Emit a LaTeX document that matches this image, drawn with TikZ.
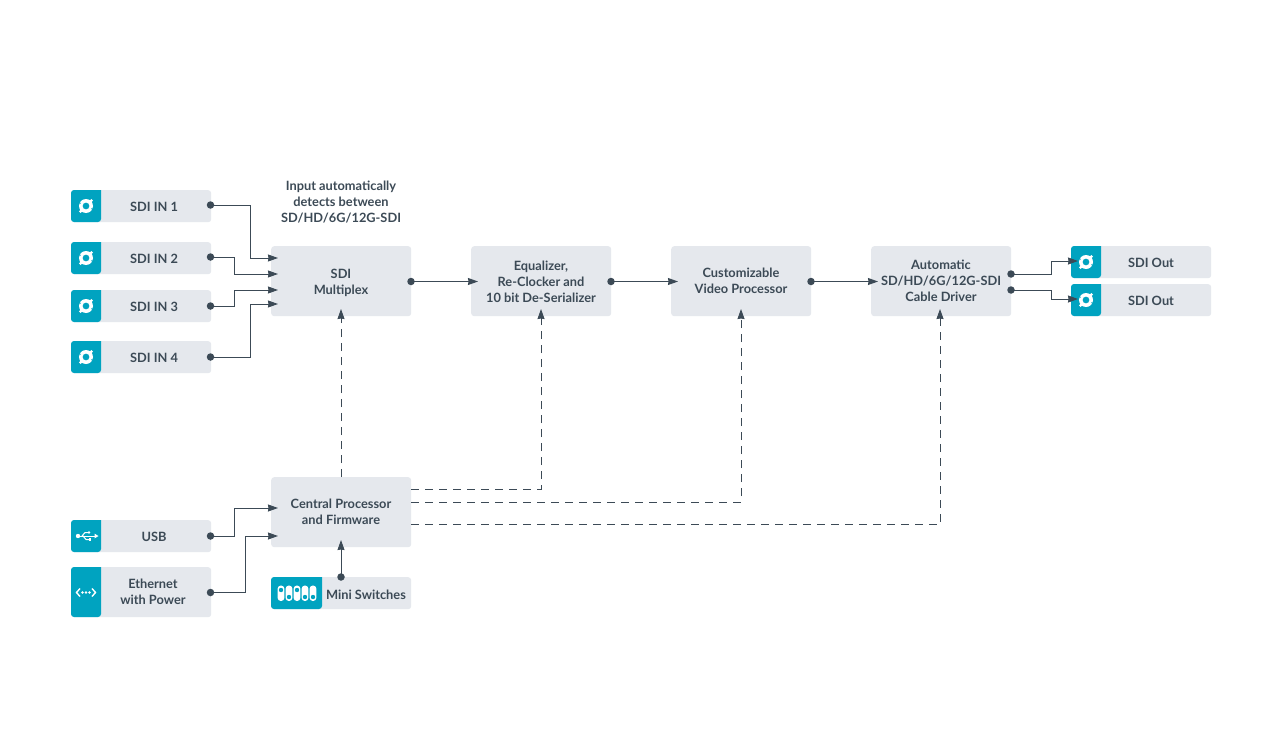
\documentclass[tikz,border=0pt]{standalone}
\usepackage{fontspec}
\setmainfont{Lato}
\usetikzlibrary{arrows.meta}
\definecolor{boxgrey}{HTML}{E5E8ED}
\definecolor{ink}{HTML}{3C4A56}
\definecolor{teal}{HTML}{00A3C0}
\newcommand{\lblfont}{\fontsize{12.8}{16}\selectfont\bfseries}
\tikzset{
  bx/.style={fill=boxgrey,draw=none,rounded corners=3pt,inner sep=0pt,align=center,font=\lblfont,text=ink},
  dotn/.style={circle,fill=ink,draw=none,minimum size=7.5pt,inner sep=0pt},
  conn/.style={draw=ink,line width=1pt,-{Stealth[length=10pt,width=7pt,inset=0.5pt]}},
  dashconn/.style={draw=ink,line width=1pt,dash pattern=on 8pt off 6pt,-{Stealth[length=10pt,width=7pt,inset=0.5pt]}}
}
\newcommand{\blockbox}[9]{% name x1 y1 x2 y2 iconwidth text dx dy
  \node[bx,minimum width=#4pt-#2pt,minimum height=#5pt-#3pt,anchor=north west] (#1) at (#2,#3) {};
  \fill[teal,rounded corners=3pt] (#2+#6,#3) -- (#2,#3) -- (#2,#5) -- (#2+#6,#5) [sharp corners] -- cycle;
  \node[font=\lblfont,text=ink,align=center] (#1t) at ({(#2+#6+#4)/2+#8},{(#3+#5)/2+#9}) {#7};
}
\newcommand{\bnc}[2]{% centre
  \fill[white,even odd rule] (#1,#2) circle (7pt) (#1,#2) circle (3.5pt);
  \draw[white,line width=2.4pt] (#1+4.2,#2-4.2) -- (#1+6.2,#2-6.2) (#1-4.2,#2+4.2) -- (#1-6.2,#2+6.2);
  \draw[teal,line width=0.9pt] (#1-5.4,#2-2.6) -- (#1-7.6,#2-3.6) (#1+5.4,#2+2.6) -- (#1+7.6,#2+3.6);
}
\begin{document}
\begin{tikzpicture}[x=1pt,y=-1pt]
\useasboundingbox (0,0) rectangle (1279,741);
\fill[white] (0,0) rectangle (1279,741);
% input blocks
\blockbox{inA}{71}{190}{211}{222}{30}{SDI IN 1}{-2}{1}
\blockbox{inB}{71}{242}{211}{274}{30}{SDI IN 2}{-2}{1}
\blockbox{inC}{71}{290}{211}{322}{30}{SDI IN 3}{-2}{1}
\blockbox{inD}{71}{341}{211}{373}{30}{SDI IN 4}{-2}{1}
\blockbox{outA}{1071}{246}{1211}{278}{30}{SDI Out}{-5}{1}
\blockbox{outB}{1071}{284}{1211}{316}{30}{SDI Out}{-5}{1}
\blockbox{usb}{71}{520}{211}{552}{30}{USB}{-2}{1}
\blockbox{eth}{71}{567}{211}{617}{30}{Ethernet\\with Power}{-3}{0}
\blockbox{mini}{271}{577}{411}{609}{51}{Mini Switches}{-0.5}{1.5}
\bnc{86}{206}\bnc{86}{258}\bnc{86}{306}\bnc{86}{357}
\bnc{1086}{262}\bnc{1086}{300}
% USB glyph
\draw[white,line width=1pt] (77,536) -- (95,536);
\fill[white] (78,536) circle (2.2pt);
\fill[white] (98.5,536) -- (94.5,533.6) -- (94.5,538.4) -- cycle;
\draw[white,line width=1pt] (82,536) -- (85,532.5) -- (88,532.5) (83,536) -- (86,539.5) -- (89,539.5);
\fill[white] (89,532.5) circle (1.4pt);
\fill[white] (88.5,538) rectangle (91,541);
% Ethernet glyph
\draw[white,line width=1.4pt] (80,588.5) -- (76.5,592.5) -- (80,596.5) (92,588.5) -- (95.5,592.5) -- (92,596.5);
\foreach \px in {82.5,86,89.5}{\fill[white] (\px,592.5) circle (1.3pt);}
% switches glyph
\foreach \sx/\sy in {281/590,289/597,297/590,305/597,313/597}{
  \fill[white,rounded corners=3.2pt] (\sx-3.4,585.5) rectangle (\sx+3.4,601);
  \fill[teal] (\sx,\sy) circle (2.2pt);
}
% main blocks
\node[bx,minimum width=140pt,minimum height=70pt,anchor=north west] (mux) at (271,246) {};
\node[bx,minimum width=140pt,minimum height=70pt,anchor=north west] (eq) at (471,246) {};
\node[bx,minimum width=140pt,minimum height=70pt,anchor=north west] (vid) at (671,246) {};
\node[bx,minimum width=140pt,minimum height=70pt,anchor=north west] (drv) at (871,246) {};
\node[bx,minimum width=140pt,minimum height=70pt,anchor=north west] (cpu) at (271,477) {};
\node[font=\lblfont,text=ink,align=center] (muxt) at (341,282.5) {SDI\\Multiplex};
\node[font=\lblfont,text=ink,align=center] (eqt) at (541,282) {Equalizer,\\Re-Clocker and\\10 bit De-Serializer};
\node[font=\lblfont,text=ink,align=center] (vidt) at (741,281) {Customizable\\Video Processor};
\node[font=\lblfont,text=ink,align=center] (drvt) at (941,281) {Automatic\\SD/HD/6G/12G-SDI\\Cable Driver};
\node[font=\lblfont,text=ink,align=center] (cput) at (341,512) {Central Processor\\and Firmware};
\node[font=\lblfont,text=ink,align=center] (note) at (341,202) {Input automatically\\detects between\\SD/HD/6G/12G-SDI};
% connection points
\foreach \n/\x/\y in {dA/210.5/205,dB/210.5/257,dC/210.5/306,dD/210.5/357,dM/411/281.5,dE/611/281.5,dV/811/281.5,dX/1011/274,dY/1011/290,dU/210.5/536,dN/210.5/592.5,dS/341/577}{
  \node[dotn] (\n) at (\x,\y) {};
}
\foreach \n/\x/\y in {mA/278/258,mB/278/274,mC/278/290,mD/278/304,eI/478/281.5,vI/678/281.5,cI/878/281.5,oA/1078/261,oB/1078/299,uI/278/508,nI/278/536,sI/341/540,tM/341/309,tE/541/309,tV/741/309,tC/940/309,fM/341/477,fE/411/489,fV/411/502,fC/411/524.5}{
  \coordinate (\n) at (\x,\y);
}
% solid connectors
\draw[conn] (dA.center) -- (250,205) -- (250,258) -- (mA);
\draw[conn] (dB.center) -- (234,257) -- (234,274) -- (mB);
\draw[conn] (dC.center) -- (234,306) -- (234,290) -- (mC);
\draw[conn] (dD.center) -- (250,357) -- (250,304) -- (mD);
\draw[conn] (dM.center) -- (eI);
\draw[conn] (dE.center) -- (vI);
\draw[conn] (dV.center) -- (cI);
\draw[conn] (dX.center) -- (1051,274) -- (1051,261) -- (oA);
\draw[conn] (dY.center) -- (1051,290) -- (1051,299) -- (oB);
\draw[conn] (dU.center) -- (234,536) -- (234,508) -- (uI);
\draw[conn] (dN.center) -- (245,592.5) -- (245,536) -- (nI);
\draw[conn] (dS.center) -- (sI);
% dashed connectors
\draw[dashconn] (fM) -- (tM);
\draw[dashconn] (fE) -- (541,489) -- (tE);
\draw[dashconn] (fV) -- (741,502) -- (tV);
\draw[dashconn] (fC) -- (940,524.5) -- (tC);
\end{tikzpicture}
\end{document}
